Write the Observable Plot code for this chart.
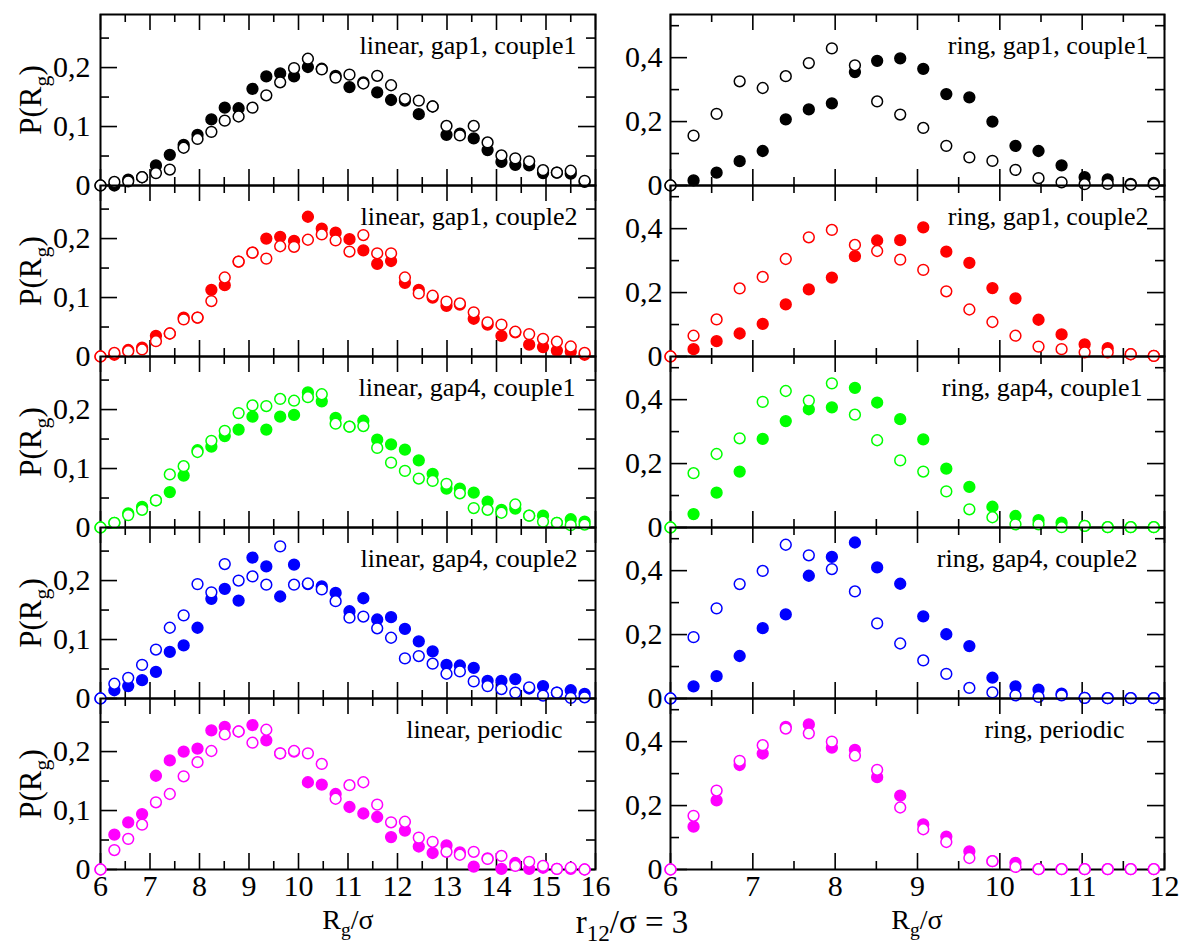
<!DOCTYPE html>
<html><head><meta charset="utf-8">
<script src="https://cdn.jsdelivr.net/npm/d3@7"></script>
<script src="https://cdn.jsdelivr.net/npm/@observablehq/plot@0.6"></script>
<style>
body{margin:0;background:#fff;}
#root{position:relative;width:1183px;height:945px;font-family:"Liberation Serif","Times New Roman",serif;color:#000;overflow:hidden;}
#root svg{position:absolute;overflow:visible;font-family:"Liberation Serif","Times New Roman",serif;}
.lab{position:absolute;white-space:nowrap;line-height:1;}
.lab sub{font-size:70%;vertical-align:-0.38em;line-height:0;}
.ylab{transform:translate(-50%,-50%) rotate(-90deg);font-size:31px;}
.xlab{transform:translate(-50%,-50%);font-size:28px;}
.mlab{transform:translate(-50%,-50%);font-size:33px;}
</style></head><body><div id="root"></div>
<script>
// R_g/sigma bin positions
const rgLinear = [6.00, 6.28, 6.56, 6.84, 7.12, 7.40, 7.68, 7.96, 8.24, 8.51, 8.79, 9.07, 9.35, 9.63, 9.91, 10.19, 10.47, 10.75, 11.03, 11.31, 11.59, 11.87, 12.15, 12.43, 12.71, 12.99, 13.26, 13.54, 13.82, 14.10, 14.38, 14.66, 14.94, 15.22, 15.50, 15.78];
const rgRing = [6.00, 6.28, 6.56, 6.84, 7.12, 7.40, 7.68, 7.96, 8.24, 8.51, 8.79, 9.07, 9.35, 9.63, 9.91, 10.19, 10.47, 10.75, 11.03, 11.31, 11.59, 11.87];

// linear, gap1, couple1
const linG1C1Filled = [0, 0, 0.010, 0.014, 0.034, 0.052, 0.069, 0.086, 0.112, 0.132, 0.131, 0.164, 0.185, 0.190, 0.185, 0.201, 0.198, 0.186, 0.167, 0.175, 0.158, 0.145, 0.144, 0.121, 0.134, 0.086, 0.088, 0.080, 0.060, 0.040, 0.035, 0.034, 0.021, 0.022, 0.020, 0.006];
const linG1C1Open = [0, 0.006, 0.007, 0.014, 0.021, 0.027, 0.064, 0.079, 0.091, 0.110, 0.117, 0.132, 0.153, 0.175, 0.199, 0.215, 0.197, 0.183, 0.188, 0.173, 0.186, 0.170, 0.147, 0.144, 0.134, 0.101, 0.085, 0.101, 0.073, 0.051, 0.046, 0.041, 0.026, 0.022, 0.025, 0.008];
// ring, gap1, couple1
const ringG1C1Filled = [0, 0.016, 0.040, 0.076, 0.108, 0.207, 0.238, 0.257, 0.355, 0.390, 0.398, 0.365, 0.286, 0.276, 0.200, 0.124, 0.108, 0.063, 0.026, 0.019, 0.005, 0.008];
const ringG1C1Open = [0, 0.156, 0.224, 0.326, 0.305, 0.342, 0.383, 0.429, 0.376, 0.263, 0.222, 0.180, 0.124, 0.088, 0.077, 0.049, 0.023, 0.010, 0.004, 0.005, 0.003, 0.004];
// linear, gap1, couple2
const linG1C2Filled = [0, 0.003, 0.011, 0.015, 0.035, 0.039, 0.066, 0.066, 0.113, 0.121, 0.161, 0.176, 0.200, 0.203, 0.196, 0.237, 0.217, 0.210, 0.199, 0.180, 0.157, 0.162, 0.125, 0.113, 0.100, 0.086, 0.088, 0.064, 0.054, 0.035, 0.041, 0.020, 0.016, 0.010, 0.008, 0.003];
const linG1C2Open = [0, 0.006, 0.009, 0.012, 0.026, 0.039, 0.063, 0.066, 0.094, 0.134, 0.161, 0.176, 0.166, 0.187, 0.186, 0.198, 0.207, 0.197, 0.178, 0.206, 0.175, 0.175, 0.134, 0.107, 0.103, 0.093, 0.090, 0.075, 0.058, 0.054, 0.042, 0.038, 0.030, 0.025, 0.017, 0.006];
// ring, gap1, couple2
const ringG1C2Filled = [0, 0.023, 0.048, 0.072, 0.102, 0.163, 0.210, 0.247, 0.314, 0.363, 0.364, 0.404, 0.328, 0.293, 0.214, 0.182, 0.115, 0.069, 0.038, 0.026, 0.007, 0.002];
const ringG1C2Open = [0, 0.065, 0.116, 0.213, 0.249, 0.305, 0.373, 0.396, 0.349, 0.330, 0.303, 0.271, 0.204, 0.147, 0.108, 0.065, 0.031, 0.023, 0.013, 0.013, 0.007, 0.002];
// linear, gap4, couple1
const linG4C1Filled = [0, 0.008, 0.024, 0.035, 0.046, 0.060, 0.088, 0.131, 0.137, 0.155, 0.166, 0.188, 0.166, 0.188, 0.191, 0.229, 0.214, 0.186, 0.171, 0.181, 0.149, 0.141, 0.132, 0.114, 0.091, 0.066, 0.066, 0.059, 0.044, 0.030, 0.032, 0.020, 0.020, 0.008, 0.014, 0.010];
const linG4C1Open = [0, 0.008, 0.021, 0.030, 0.046, 0.090, 0.104, 0.128, 0.147, 0.164, 0.194, 0.207, 0.206, 0.218, 0.215, 0.221, 0.226, 0.176, 0.171, 0.172, 0.135, 0.110, 0.096, 0.083, 0.079, 0.074, 0.058, 0.033, 0.030, 0.025, 0.039, 0.020, 0.010, 0.008, 0.004, 0.005];
// ring, gap4, couple1
const ringG4C1Filled = [0, 0.042, 0.109, 0.175, 0.277, 0.333, 0.370, 0.376, 0.437, 0.391, 0.339, 0.276, 0.184, 0.127, 0.065, 0.036, 0.023, 0.015, 0.005, 0.001, 0.001, 0.001];
const ringG4C1Open = [0, 0.170, 0.230, 0.279, 0.393, 0.427, 0.397, 0.451, 0.353, 0.273, 0.210, 0.175, 0.113, 0.057, 0.032, 0.010, 0.010, 0.001, 0.005, 0.001, 0.001, 0.001];
// linear, gap4, couple2
const linG4C2Filled = [0, 0.014, 0.021, 0.031, 0.045, 0.079, 0.090, 0.120, 0.169, 0.186, 0.166, 0.239, 0.224, 0.173, 0.227, 0.194, 0.190, 0.179, 0.148, 0.170, 0.134, 0.138, 0.118, 0.097, 0.080, 0.057, 0.056, 0.052, 0.030, 0.030, 0.033, 0.017, 0.021, 0.010, 0.014, 0.008];
const linG4C2Open = [0, 0.025, 0.035, 0.057, 0.083, 0.120, 0.141, 0.194, 0.180, 0.228, 0.200, 0.207, 0.193, 0.258, 0.193, 0.195, 0.185, 0.165, 0.137, 0.139, 0.119, 0.103, 0.068, 0.072, 0.059, 0.042, 0.046, 0.029, 0.021, 0.016, 0.010, 0.019, 0.005, 0.010, 0.001, 0.002];
// ring, gap4, couple2
const ringG4C2Filled = [0, 0.038, 0.070, 0.133, 0.220, 0.263, 0.384, 0.443, 0.488, 0.410, 0.359, 0.257, 0.201, 0.164, 0.065, 0.038, 0.028, 0.015, 0.002, 0.001, 0.001, 0.001];
const ringG4C2Open = [0, 0.192, 0.282, 0.358, 0.399, 0.481, 0.448, 0.405, 0.335, 0.235, 0.172, 0.119, 0.077, 0.033, 0.019, 0.010, 0.005, 0.010, 0.002, 0.001, 0.001, 0.001];
// linear, periodic
const linPerFilled = [0, 0.059, 0.080, 0.094, 0.159, 0.185, 0.200, 0.205, 0.236, 0.242, 0.234, 0.245, 0.219, 0.197, 0.200, 0.148, 0.144, 0.128, 0.106, 0.095, 0.089, 0.055, 0.066, 0.039, 0.028, 0.041, 0.029, 0.005, 0.019, 0.001, 0.011, 0.001, 0.003, 0.001, 0.001, 0];
const linPerOpen = [0, 0.033, 0.052, 0.076, 0.114, 0.128, 0.158, 0.182, 0.201, 0.229, 0.234, 0.215, 0.237, 0.197, 0.201, 0.197, 0.179, 0.120, 0.143, 0.148, 0.110, 0.080, 0.081, 0.054, 0.047, 0.030, 0.025, 0.030, 0.018, 0.023, 0.006, 0.013, 0.006, 0.001, 0.003, 0];
// ring, periodic
const ringPerFilled = [0, 0.134, 0.216, 0.327, 0.363, 0.446, 0.454, 0.381, 0.374, 0.289, 0.231, 0.141, 0.103, 0.057, 0.026, 0.021, 0.001, 0.001, 0.001, 0.001, 0.001, 0.001];
const ringPerOpen = [0, 0.168, 0.247, 0.340, 0.389, 0.441, 0.426, 0.400, 0.356, 0.312, 0.194, 0.126, 0.086, 0.036, 0.026, 0.008, 0.001, 0.001, 0.001, 0.001, 0.001, 0.001];

// tick labels
const xTicksLinear = [6, 7, 8, 9, 10, 11, 12, 13, 14, 15, 16];
const xMinorLinear = [6.5, 7.5, 8.5, 9.5, 10.5, 11.5, 12.5, 13.5, 14.5, 15.5];
const xTicksRing = [6, 7, 8, 9, 10, 11, 12];
const xMinorRing = [6.5, 7.5, 8.5, 9.5, 10.5, 11.5];
const yTicksLinear = [0, 0.1, 0.2];
const yMinorLinear = [0.05, 0.15, 0.25];
const yTicksRing = [0, 0.2, 0.4];
const yMinorRing = [0.1, 0.3, 0.5];

const colors = ["#000000", "#ff0000", "#00ff00", "#0000ff", "#ff00ff"];
const linearLabels = ["linear, gap1, couple1", "linear, gap1, couple2", "linear, gap4, couple1", "linear, gap4, couple2", "linear, periodic"];
const ringLabels = ["ring, gap1, couple1", "ring, gap1, couple2", "ring, gap4, couple1", "ring, gap4, couple2", "ring, periodic"];
const linearFilled = [linG1C1Filled, linG1C2Filled, linG4C1Filled, linG4C2Filled, linPerFilled];
const linearOpen = [linG1C1Open, linG1C2Open, linG4C1Open, linG4C2Open, linPerOpen];
const ringFilled = [ringG1C1Filled, ringG1C2Filled, ringG4C1Filled, ringG4C2Filled, ringPerFilled];
const ringOpen = [ringG1C1Open, ringG1C2Open, ringG4C1Open, ringG4C2Open, ringPerOpen];
const linearLabelDx = [-19, -18, -20, -18, -33];
const ringLabelDx = [-16, -16, -22, -27, -40];

const FONT = "Liberation Serif";
const root = document.getElementById("root");
const ROW0 = 14, ROWH = 171, MT = 20, MB = 20, MR = 20;
const fmtY = d => d === 0 ? "0" : d.toFixed(1).replace(".", ",");

function panel(col, row) {
  const lin = col === 0;
  const xs = lin ? rgLinear : rgRing;
  const filled = lin ? linearFilled[row] : ringFilled[row];
  const open = lin ? linearOpen[row] : ringOpen[row];
  const color = colors[row];
  const xdom = lin ? [6, 16] : [6, 12];
  const ydom = lin ? [0, 0.29] : [0, 0.535];
  const ml = lin ? 100 : 80;
  const W = lin ? ml + 495 + MR : ml + 494 + MR;
  const pw = W - ml - MR;
  const H = ROWH + MT + MB;
  const kx = (xdom[1] - xdom[0]) / pw, ky = (ydom[1] - ydom[0]) / ROWH;
  const xt = [...(lin ? xTicksLinear : xTicksRing).map(v => ({v, len: 16})), ...(lin ? xMinorLinear : xMinorRing).map(v => ({v, len: 8}))];
  const yt = [...(lin ? yTicksLinear : yTicksRing).map(v => ({v, len: 17})), ...(lin ? yMinorLinear : yMinorRing).map(v => ({v, len: 9}))];
  const tk = {stroke: "black", strokeWidth: 1.6};
  const marks = [
    Plot.ruleX(xt, {x: "v", y1: ydom[0], y2: d => ydom[0] + d.len * ky, ...tk}),
    Plot.ruleX(xt, {x: "v", y1: ydom[1], y2: d => ydom[1] - d.len * ky, ...tk}),
    Plot.ruleY(yt, {y: "v", x1: xdom[0], x2: d => xdom[0] + d.len * kx, ...tk}),
    Plot.ruleY(yt, {y: "v", x1: xdom[1], x2: d => xdom[1] - d.len * kx, ...tk}),
    Plot.frame({stroke: "black", strokeWidth: 2}),
    Plot.axisY({anchor: "left", ticks: lin ? yTicksLinear : yTicksRing, tickSize: 0, tickPadding: lin ? 10 : 8, tickFormat: fmtY, fontSize: 30, fontFamily: FONT, label: null}),
    Plot.text([lin ? linearLabels[row] : ringLabels[row]], {frameAnchor: "top-right", dx: lin ? linearLabelDx[row] : ringLabelDx[row], dy: 31, textAnchor: "end", lineAnchor: "middle", fontSize: 26, fontFamily: FONT, fill: "black"}),
    Plot.dot(filled, {x: (d, i) => xs[i], y: d => d, r: 5.4, fill: color, stroke: color, strokeWidth: 1.5}),
    Plot.dot(open, {x: (d, i) => xs[i], y: d => d, r: 5.4, fill: "white", stroke: color, strokeWidth: 1.5})
  ];
  if (row === 4) {
    marks.push(Plot.axisX({anchor: "bottom", ticks: lin ? xTicksLinear : xTicksRing, tickSize: 0, tickPadding: 5, tickFormat: d => String(d), fontSize: 30, fontFamily: FONT, label: null}));
  }
  const svg = Plot.plot({
    width: W, height: H,
    marginLeft: ml, marginRight: MR, marginTop: MT, marginBottom: MB,
    x: {domain: xdom, axis: null},
    y: {domain: ydom, axis: null},
    style: {background: "transparent", overflow: "visible", fontFamily: "'Liberation Serif', 'Times New Roman', serif", color: "black"},
    marks
  });
  svg.style.left = (lin ? 0 : 590) + "px";
  svg.style.top = (ROW0 + row * ROWH - MT) + "px";
  root.appendChild(svg);
}

for (let row = 0; row < 5; row++) { panel(0, row); panel(1, row); }

function addLabel(cls, html, x, y) {
  const d = document.createElement("div");
  d.className = "lab " + cls;
  d.innerHTML = html;
  d.style.left = x + "px";
  d.style.top = y + "px";
  root.appendChild(d);
}
for (let row = 0; row < 5; row++) addLabel("ylab", "P(R<sub>g</sub>)", 30, ROW0 + row * ROWH + ROWH / 2);
addLabel("xlab", "R<sub>g</sub>/σ", 348, 920);
addLabel("xlab", "R<sub>g</sub>/σ", 917, 920);
addLabel("mlab", "r<sub>12</sub>/σ = 3", 632, 922);
</script></body></html>
